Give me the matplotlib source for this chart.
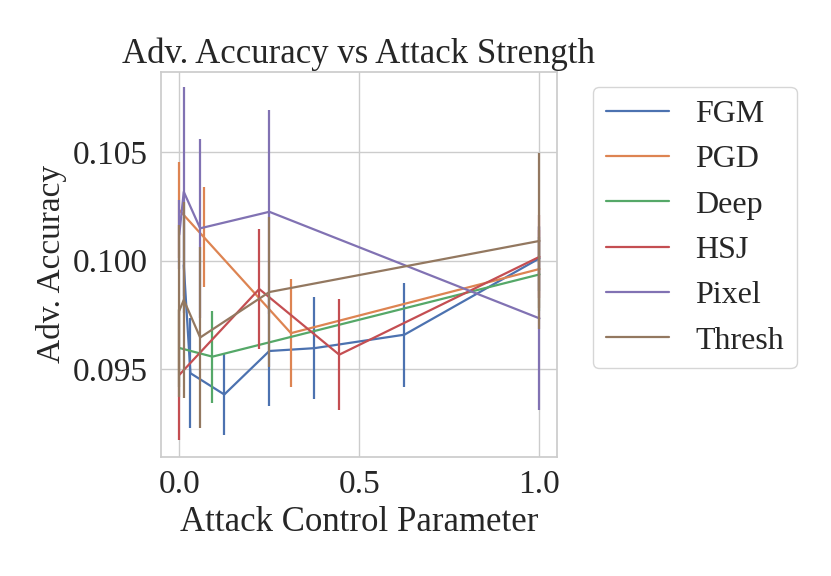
import matplotlib
matplotlib.use("Agg")
from matplotlib import pyplot as plt
import seaborn as sns

sns.set_theme(style="whitegrid")
plt.rcParams["font.family"] = ["Liberation Serif", "DejaVu Serif"]

attacks = ["FGM", "PGD", "Deep", "HSJ", "Pixel", "Thresh"]

# x = attack control parameter, y = mean adv. accuracy, e = half width of error bar
fgm_x = [0.0125, 0.031, 0.125, 0.25, 0.375, 0.625, 1.0]
fgm_y = [0.0998, 0.09483, 0.09385, 0.09585, 0.09598, 0.0966, 0.10011]
fgm_e = [0.0022, 0.00253, 0.00188, 0.00253, 0.00235, 0.00239, 0.0015]

pgd_x = [0.0, 0.069, 0.31, 1.0]
pgd_y = [0.10233, 0.10107, 0.09667, 0.09962]
pgd_e = [0.00222, 0.0023, 0.00247, 0.0018]

deep_x = [0.0, 0.092, 1.0]
deep_y = [0.09599, 0.09559, 0.09937]
deep_e = [0.0018, 0.00212, 0.0017]

hsj_x = [0.0, 0.222, 0.444, 1.0]
hsj_y = [0.09475, 0.0987, 0.09568, 0.10018]
hsj_e = [0.00299, 0.00278, 0.00256, 0.0019]

pixel_x = [0.0, 0.0125, 0.058, 0.25, 1.0]
pixel_y = [0.1012, 0.10317, 0.10149, 0.10225, 0.09735]
pixel_e = [0.0016, 0.0048, 0.0041, 0.0047, 0.00421]

thresh_x = [0.0, 0.0125, 0.058, 0.25, 1.0]
thresh_y = [0.0977, 0.0982, 0.09647, 0.09856, 0.10091]
thresh_e = [0.00395, 0.00452, 0.00414, 0.00345, 0.00403]

series = [
    (fgm_x, fgm_y, fgm_e),
    (pgd_x, pgd_y, pgd_e),
    (deep_x, deep_y, deep_e),
    (hsj_x, hsj_y, hsj_e),
    (pixel_x, pixel_y, pixel_e),
    (thresh_x, thresh_y, thresh_e),
]
colors = sns.color_palette("deep", len(attacks))

fig = plt.figure(figsize=(8.31, 5.76), dpi=100)
ax = fig.add_axes([0.1937, 0.2071, 0.4763, 0.6684])

for name, (x, y, e), c in zip(attacks, series, colors):
    ax.plot(x, y, color=c, lw=1.6, label=name)
    ax.errorbar(x, y, yerr=e, linestyle="", color=c, lw=1.6)

ax.set_xlim(-0.0508, 1.048)
ax.set_ylim(0.09099, 0.10869)
ax.set_xticks([0.0, 0.5, 1.0])
ax.set_yticks([0.095, 0.100, 0.105])
ax.set_yticklabels(["0.095", "0.100", "0.105"])
ax.tick_params(labelsize=24)

ax.set_title("Adv. Accuracy vs Attack Strength", fontsize=25)
ax.set_xlabel("Attack Control Parameter", fontsize=25)
ax.set_ylabel("Adv. Accuracy", fontsize=24)

ax.legend(loc="upper left", bbox_to_anchor=(1.091, 0.961), fontsize=23,
          borderaxespad=0)

fig.savefig("out.png", dpi=100)
